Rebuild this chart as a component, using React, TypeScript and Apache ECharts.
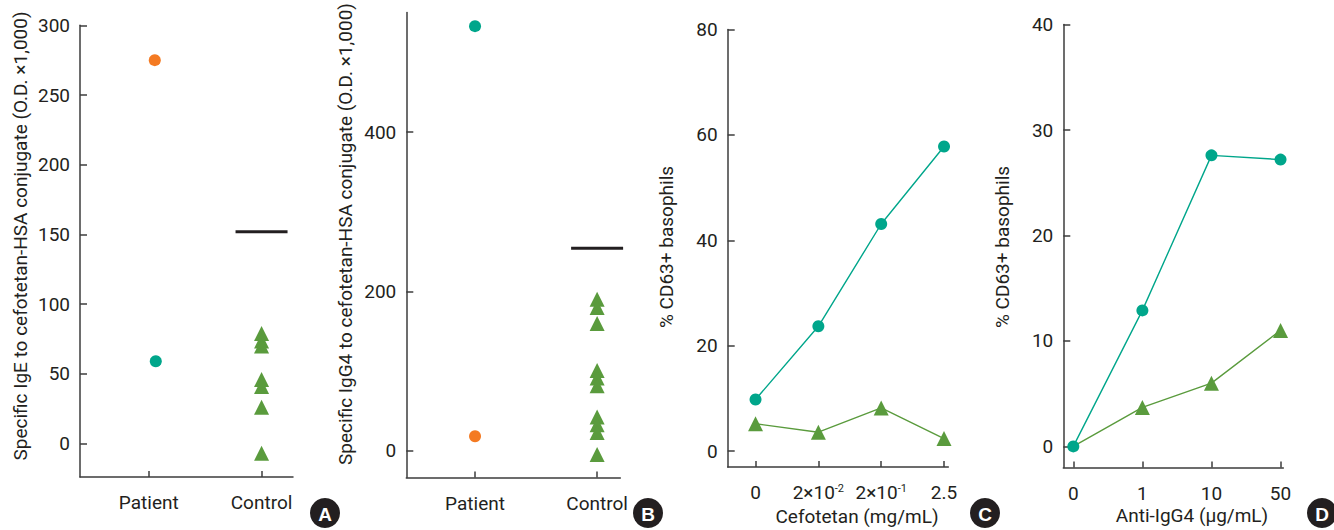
import React, { useEffect, useRef } from "react";
import * as echarts from "echarts";

// ---------- data ----------
const groupLabels = ["Patient", "Control"];
const orangePatient = [275, 18]; // [IgE (A), IgG4 (B)]
const tealPatient = [59, 533]; // [IgE (A), IgG4 (B)]
const controlIgE = [79, 73.5, 70, 46, 41, 26, -7];
const controlIgG4 = [190, 179.5, 159.5, 100.5, 91, 81.5, 42, 32.5, 22.5, -5];
const controlMean = [152, 254]; // [A, B]
const ticksA = [0, 50, 100, 150, 200, 250, 300];
const ticksB = [0, 200, 400];
const ticksC = [0, 20, 40, 60, 80];
const ticksD = [0, 10, 20, 30, 40];
const cefotetanLabels = ["0", "2×10{s|-2}", "2×10{s|-1}", "2.5"];
const cefPatient = [9.8, 23.7, 43.1, 57.8];
const cefControl = [5.2, 3.6, 8.2, 2.4];
const antiLabels = ["0", "1", "10", "50"];
const antiPatient = [0, 12.9, 27.6, 27.2];
const antiControl = [0, 3.7, 6.0, 11.0];

// ---------- styles ----------
const FONT = "Roboto, 'Liberation Sans', sans-serif";
const TEXT = "#231f20";
const AXIS = "#3c3c3c";
const TEAL = "#00a68b";
const ORANGE = "#f47a22";
const GREEN = "#5a9b3d";
const FS = 19;

function yAxis(gridIndex: number, min: number, max: number, ticks: number[]) {
  return {
    type: "value",
    gridIndex,
    min,
    max,
    axisLine: { show: true, onZero: false, lineStyle: { color: AXIS, width: 1.5 } },
    axisTick: { show: true, inside: true, length: 7, customValues: ticks, lineStyle: { color: AXIS, width: 1.5 } },
    axisLabel: { customValues: ticks, margin: 10, color: TEXT, fontSize: FS, fontFamily: FONT },
    splitLine: { show: false },
  };
}

function xAxis(gridIndex: number, min: number, max: number, ticks: number[], fmt: (v: number) => string, rich?: any) {
  return {
    type: "value",
    gridIndex,
    min,
    max,
    axisLine: { show: true, onZero: false, lineStyle: { color: AXIS, width: 1.5 } },
    axisTick: { show: true, inside: true, length: 6, customValues: ticks, lineStyle: { color: AXIS, width: 1.5 } },
    axisLabel: { customValues: ticks, margin: 16, color: TEXT, fontSize: FS, fontFamily: FONT, formatter: fmt, rich },
    splitLine: { show: false },
  };
}

function meanRender(params: any, api: any) {
  const p = api.coord([api.value(0), api.value(1)]);
  return {
    type: "line",
    shape: { x1: p[0] - 26, y1: p[1], x2: p[0] + 26, y2: p[1] },
    style: { stroke: TEXT, lineWidth: 3 },
  };
}

function badge(letter: string, cx: number, cy: number) {
  return [
    { type: "circle", shape: { cx, cy, r: 15 }, style: { fill: TEXT } },
    {
      type: "text",
      x: cx,
      y: cy + 1,
      style: { text: letter, fill: "#fff", fontSize: 19, fontWeight: "bold", fontFamily: "'Liberation Sans', Arial, sans-serif", align: "center", verticalAlign: "middle" },
    },
  ];
}

function vTitle(text: string, x: number, y: number) {
  return {
    type: "text",
    x,
    y,
    rotation: Math.PI / 2,
    style: { text, fill: TEXT, fontSize: FS, fontFamily: FONT, align: "center", verticalAlign: "middle" },
  };
}

function hTitle(text: string, x: number, y: number) {
  return {
    type: "text",
    x,
    y,
    style: { text, fill: TEXT, fontSize: FS, fontFamily: FONT, align: "center", verticalAlign: "middle" },
  };
}

const scatterBase = { type: "scatter", itemStyle: { opacity: 1 } };

export default function App() {
  const ref = useRef<HTMLDivElement>(null);
  useEffect(() => {
    if (!ref.current) return;
    const chart = echarts.init(ref.current, undefined, { renderer: "svg" });
    const cat = (v: number) => groupLabels[Math.round(v) - 1] ?? "";
    const option: any = {
      animation: false,
      backgroundColor: "#fff",
      grid: [
        { left: 80, top: 25.3, width: 213, height: 451.7 },
        { left: 406.3, top: 12.6, width: 214, height: 465 },
        { left: 727.7, top: 29.5, width: 220.6, height: 437.5 },
        { left: 1063.3, top: 24.6, width: 220, height: 442.9 },
      ],
      xAxis: [
        xAxis(0, 0.39, 2.279, [1, 2], cat),
        xAxis(1, 0.437, 2.19, [1, 2], cat),
        xAxis(2, -0.443, 3.068, [0, 1, 2, 3], (v: number) => cefotetanLabels[Math.round(v)] ?? "", {
          s: { fontSize: 11, fontFamily: FONT, color: TEXT, verticalAlign: "top", lineHeight: 11 },
        }),
        xAxis(3, -0.145, 3.04, [0, 1, 2, 3], (v: number) => antiLabels[Math.round(v)] ?? ""),
      ],
      yAxis: [
        yAxis(0, -24, 300, ticksA),
        yAxis(1, -34, 550, ticksB),
        yAxis(2, -3, 80, ticksC),
        yAxis(3, -2, 40, ticksD),
      ],
      series: [
        // Panel A
        { ...scatterBase, xAxisIndex: 0, yAxisIndex: 0, symbol: "triangle", symbolSize: 15, itemStyle: { color: GREEN, opacity: 1 }, data: controlIgE.map((v) => [2, v]) },
        { ...scatterBase, xAxisIndex: 0, yAxisIndex: 0, symbol: "circle", symbolSize: 12, symbolOffset: [6, 0], itemStyle: { color: ORANGE, opacity: 1 }, data: [[1, orangePatient[0]]] },
        { ...scatterBase, xAxisIndex: 0, yAxisIndex: 0, symbol: "circle", symbolSize: 12, symbolOffset: [7, 0], itemStyle: { color: TEAL, opacity: 1 }, data: [[1, tealPatient[0]]] },
        { type: "custom", xAxisIndex: 0, yAxisIndex: 0, renderItem: meanRender, data: [[2, controlMean[0]]] },
        // Panel B
        { ...scatterBase, xAxisIndex: 1, yAxisIndex: 1, symbol: "triangle", symbolSize: 15, itemStyle: { color: GREEN, opacity: 1 }, data: controlIgG4.map((v) => [2, v]) },
        { ...scatterBase, xAxisIndex: 1, yAxisIndex: 1, symbol: "circle", symbolSize: 12, itemStyle: { color: ORANGE, opacity: 1 }, data: [[1, orangePatient[1]]] },
        { ...scatterBase, xAxisIndex: 1, yAxisIndex: 1, symbol: "circle", symbolSize: 12, itemStyle: { color: TEAL, opacity: 1 }, data: [[1, tealPatient[1]]] },
        { type: "custom", xAxisIndex: 1, yAxisIndex: 1, renderItem: meanRender, data: [[2, controlMean[1]]] },
        // Panel C
        { type: "line", xAxisIndex: 2, yAxisIndex: 2, symbol: "triangle", symbolSize: 15, itemStyle: { color: GREEN }, lineStyle: { color: GREEN, width: 1.4 }, data: cefControl.map((v, i) => [i, v]) },
        { type: "line", xAxisIndex: 2, yAxisIndex: 2, symbol: "circle", symbolSize: 12, itemStyle: { color: TEAL }, lineStyle: { color: TEAL, width: 1.4 }, data: cefPatient.map((v, i) => [i, v]) },
        // Panel D
        {
          type: "line", xAxisIndex: 3, yAxisIndex: 3, symbol: "triangle", symbolSize: 15, itemStyle: { color: GREEN }, lineStyle: { color: GREEN, width: 1.4 },
          data: antiControl.map((v, i) => (i === 0 ? { value: [i, v], symbol: "none" } : [i, v])),
        },
        { type: "line", xAxisIndex: 3, yAxisIndex: 3, symbol: "circle", symbolSize: 12, itemStyle: { color: TEAL }, lineStyle: { color: TEAL, width: 1.4 }, data: antiPatient.map((v, i) => [i, v]) },
      ],
      graphic: [
        vTitle("Specific IgE to cefotetan-HSA conjugate (O.D. ×1,000)", 20, 236),
        vTitle("Specific IgG4 to cefotetan-HSA conjugate (O.D. ×1,000)", 345, 234),
        vTitle("% CD63+ basophils", 666, 247),
        vTitle("% CD63+ basophils", 1002, 247),
        hTitle("Cefotetan (mg/mL)", 857, 516),
        hTitle("Anti-IgG4 (μg/mL)", 1192, 515),
        ...badge("A", 325, 513),
        ...badge("B", 648, 513),
        ...badge("C", 985, 513),
        ...badge("D", 1322, 513),
      ],
    };
    chart.setOption(option);
    return () => chart.dispose();
  }, []);
  return <div ref={ref} style={{ position: "absolute", left: 0, top: 0, width: 1334, height: 530 }} />;
}
